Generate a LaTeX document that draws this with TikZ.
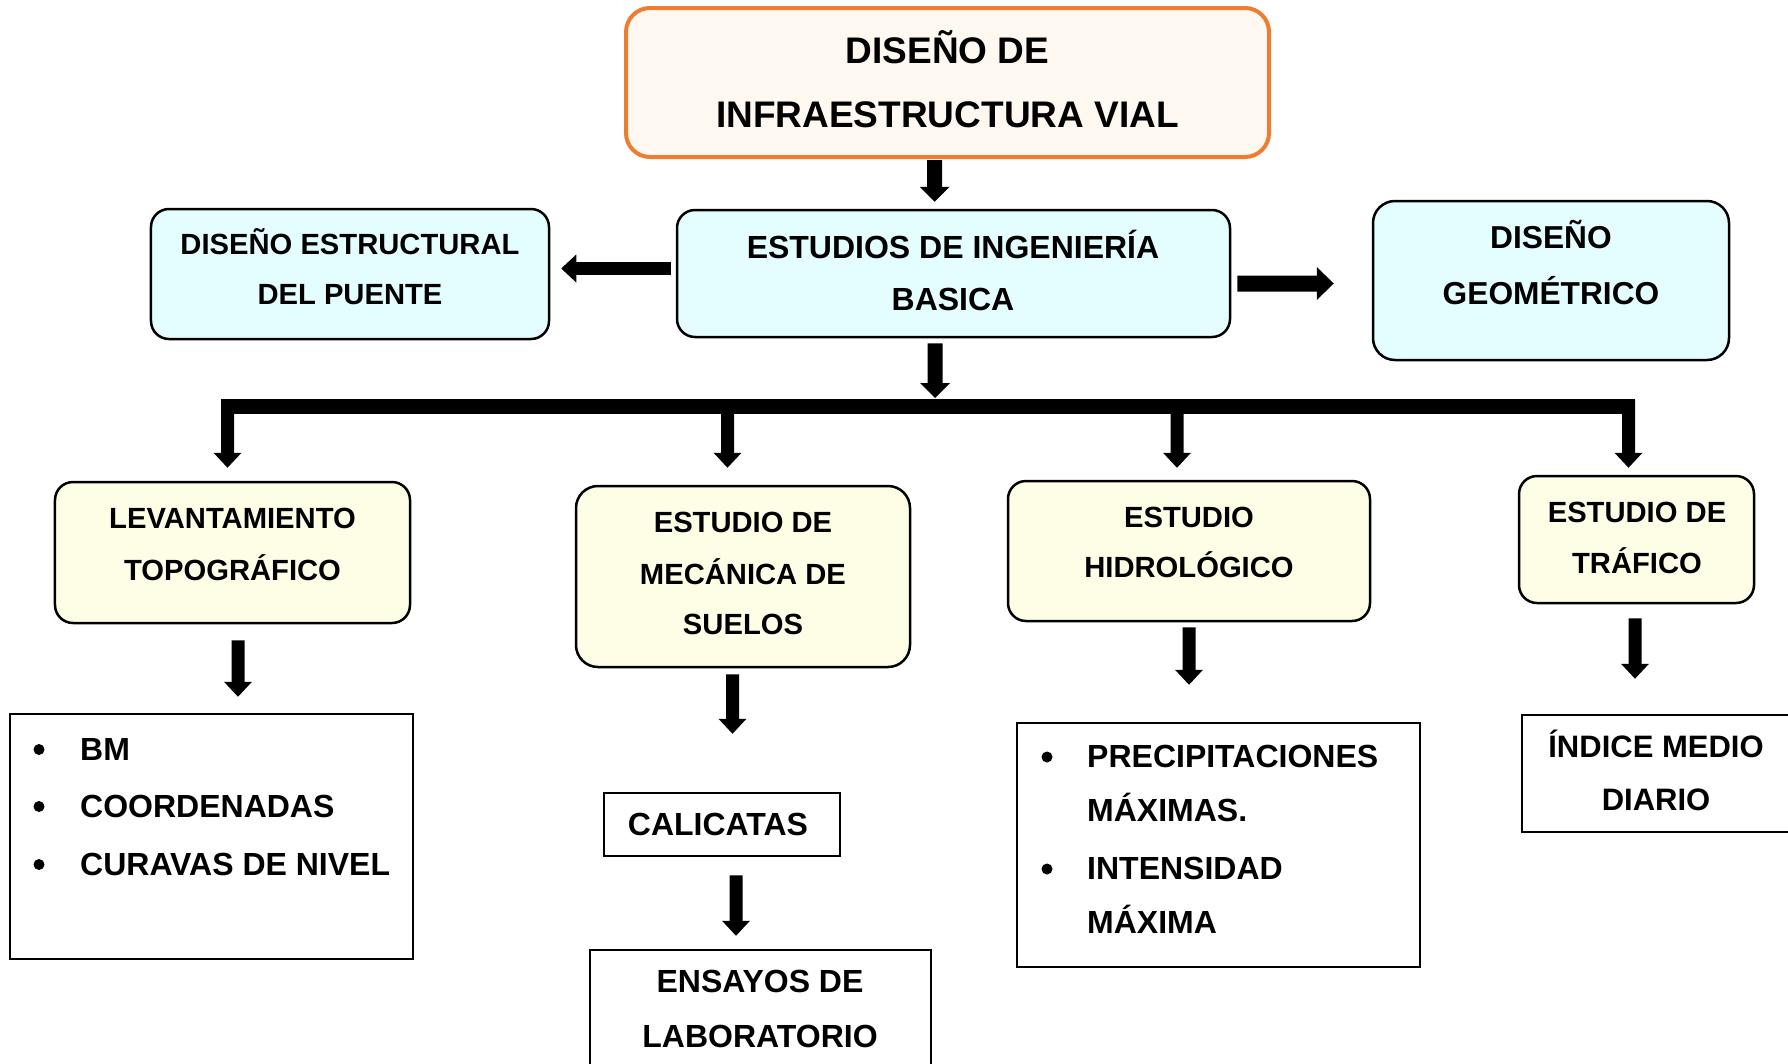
\documentclass[tikz,border=0pt]{standalone}
\usepackage{fontspec}
\setmainfont{Liberation Sans}
\usetikzlibrary{arrows.meta}
\definecolor{orangeb}{HTML}{ED7D31}
\definecolor{peach}{HTML}{FEF8F1}
\definecolor{cyanf}{HTML}{E4FEFF}
\definecolor{yellowf}{HTML}{FEFEE6}
\newcommand\fsz[1]{\fontsize{#1bp}{#1bp}\selectfont\bfseries}
\tikzset{
  rbox/.style={draw=black, line width=2.5bp, rounded corners=18bp, inner sep=0pt},
  topbox/.style={draw=orangeb, fill=peach, line width=4bp, rounded corners=24bp, inner sep=0pt},
  cbox/.style={rbox, fill=cyanf},
  ybox/.style={rbox, fill=yellowf},
  sbox/.style={draw=black, fill=white, line width=2.5bp, inner sep=0pt},
  txt/.style={inner sep=0pt, anchor=base},
  ltxt/.style={inner sep=0pt, anchor=base west},
  bul/.style={circle, fill=black, inner sep=0pt, minimum size=11bp},
  arrA/.style={line width=15bp, -{Triangle[width=30bp,length=15bp,line width=0bp]}},
  arrB/.style={line width=13bp, -{Triangle[width=28bp,length=15bp,line width=0bp]}},
  arrC/.style={line width=16bp, -{Triangle[width=33bp,length=17bp,line width=0bp]}},
}
\begin{document}
\begin{tikzpicture}[x=1bp, y=-1bp]
\useasboundingbox (0,0) rectangle (1788,1063);
\fill[white] (0,0) rectangle (1788,1063);

% boxes
\node[topbox, minimum width=643bp, minimum height=149bp] (top) at (947.5,82.5) {};
\node[cbox, minimum width=553bp, minimum height=127bp] (mid) at (953.5,273.5) {};
\node[cbox, minimum width=398bp, minimum height=130bp] (dep) at (350,274) {};
\node[cbox, minimum width=356bp, minimum height=159bp, rounded corners=22bp] (dg) at (1551,280.5) {};
\node[ybox, minimum width=355bp, minimum height=141bp] (lev) at (232.5,552.5) {};
\node[ybox, minimum width=334bp, minimum height=181bp, rounded corners=22bp] (mec) at (743,576.5) {};
\node[ybox, minimum width=362bp, minimum height=140bp] (hid) at (1189,551) {};
\node[ybox, minimum width=235bp, minimum height=127bp] (tra) at (1636.5,539.5) {};
\node[sbox, minimum width=403bp, minimum height=245bp] (lst) at (211.5,836.5) {};
\node[sbox, minimum width=236bp, minimum height=63bp] (cal) at (722,824.5) {};
\node[sbox, minimum width=341bp, minimum height=125bp] (ens) at (760.5,1012.5) {};
\node[sbox, minimum width=403bp, minimum height=244bp] (prec) at (1218.5,845) {};
\node[sbox, minimum width=288bp, minimum height=117bp] (ind) at (1666,773.5) {};

% texts
\node[txt, font=\fsz{37}] (t1a) at (947.5,63) {DISEÑO DE};
\node[txt, font=\fsz{37}] (t1b) at (947.5,127) {INFRAESTRUCTURA VIAL};
\node[txt, font=\fsz{32}] (t2a) at (953,258) {ESTUDIOS DE INGENIERÍA};
\node[txt, font=\fsz{32}] (t2b) at (953,310) {BASICA};
\node[txt, font=\fsz{29.2}] (t3a) at (350,254) {DISEÑO ESTRUCTURAL};
\node[txt, font=\fsz{29.2}] (t3b) at (350,304) {DEL PUENTE};
\node[txt, font=\fsz{31.7}] (t4a) at (1551,248) {DISEÑO};
\node[txt, font=\fsz{31.7}] (t4b) at (1551,304) {GEOMÉTRICO};
\node[txt, font=\fsz{29.2}] (t5a) at (232.5,528) {LEVANTAMIENTO};
\node[txt, font=\fsz{29.2}] (t5b) at (232.5,580) {TOPOGRÁFICO};
\node[txt, font=\fsz{29.2}] (t6a) at (743,532.5) {ESTUDIO DE};
\node[txt, font=\fsz{29.2}] (t6b) at (743,584.5) {MECÁNICA DE};
\node[txt, font=\fsz{29.2}] (t6c) at (743,634.5) {SUELOS};
\node[txt, font=\fsz{29.2}] (t7a) at (1189,527.5) {ESTUDIO};
\node[txt, font=\fsz{29.2}] (t7b) at (1189,577.5) {HIDROLÓGICO};
\node[txt, font=\fsz{29.2}] (t8a) at (1637,522) {ESTUDIO DE};
\node[txt, font=\fsz{29.2}] (t8b) at (1637,573) {TRÁFICO};

\node[bul] (b1) at (39,749.5) {};
\node[bul] (b2) at (39,806.5) {};
\node[bul] (b3) at (39,864.5) {};
\node[ltxt, font=\fsz{32}] (t9a) at (80,760) {BM};
\node[ltxt, font=\fsz{32}] (t9b) at (80,817) {COORDENADAS};
\node[ltxt, font=\fsz{32}] (t9c) at (80,875) {CURAVAS DE NIVEL};

\node[txt, font=\fsz{32}] (t10) at (718,835) {CALICATAS};
\node[txt, font=\fsz{32}] (t11a) at (760,992) {ENSAYOS DE};
\node[txt, font=\fsz{32}] (t11b) at (760,1047) {LABORATORIO};

\node[bul] (b4) at (1047,757) {};
\node[bul] (b5) at (1047,869) {};
\node[ltxt, font=\fsz{32}] (t12a) at (1087,767.5) {PRECIPITACIONES};
\node[ltxt, font=\fsz{32}] (t12b) at (1087,821.5) {MÁXIMAS.};
\node[ltxt, font=\fsz{32}] (t12c) at (1087,879.5) {INTENSIDAD};
\node[ltxt, font=\fsz{32}] (t12d) at (1087,933.5) {MÁXIMA};

\node[txt, font=\fsz{31}] (t13a) at (1656,757) {ÍNDICE MEDIO};
\node[txt, font=\fsz{31}] (t13b) at (1656,810) {DIARIO};

% bar coordinates
\coordinate (barL) at (221,406.5);
\coordinate (barR) at (1635,406.5);
\coordinate (bm) at (935,406.5);
\coordinate (s1) at (227.5,400);
\coordinate (s2) at (727.5,400);
\coordinate (s3) at (1177,400);
\coordinate (s4) at (1628.5,400);

% connectors
\draw[arrA, shorten <=1bp, shorten >=7bp] ([xshift=-13bp]top.south) -- ([xshift=-19bp]mid.north);
\draw[arrB, shorten <=5bp, shorten >=11bp] ([yshift=5bp]mid.west) -- ([yshift=5.5bp]dep.east);
\draw[arrC, shorten <=6bp, shorten >=38bp] ([yshift=-10bp]mid.east) -- ([yshift=-3bp]dg.west);
\draw[arrA, shorten <=5bp, shorten >=8.5bp] ([xshift=-18.5bp]mid.south) -- (bm);
\draw[line width=15bp] (barL) -- (barR);
\draw[arrB, shorten >=13bp] (s1) -- ([xshift=-5bp]lev.north);
\draw[arrB, shorten >=17bp] (s2) -- ([xshift=-15.5bp]mec.north);
\draw[arrB, shorten >=12bp] (s3) -- ([xshift=-12bp]hid.north);
\draw[arrB, shorten >=7bp] (s4) -- ([xshift=-8bp]tra.north);
\draw[arrB, shorten <=16bp, shorten >=16bp] ([xshift=5.5bp]lev.south) -- ([xshift=26.5bp]lst.north);
\draw[arrB, shorten <=6bp, shorten >=58bp] ([xshift=-10.5bp]mec.south) -- ([xshift=10.5bp]cal.north);
\draw[arrB, shorten <=18bp, shorten >=13bp] ([xshift=14bp]cal.south) -- ([xshift=-24.5bp]ens.north);
\draw[arrB, shorten <=5bp, shorten >=37bp] (hid.south) -- ([xshift=-29.5bp]prec.north);
\draw[arrB, shorten <=14bp, shorten >=35bp] ([xshift=-1.5bp]tra.south) -- ([xshift=-31bp]ind.north);
\end{tikzpicture}
\end{document}
